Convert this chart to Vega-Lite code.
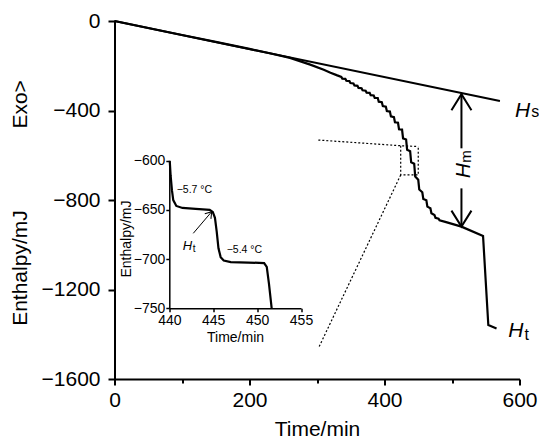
{
  "$schema": "https://vega.github.io/schema/vega-lite/v6.json",
  "width": 405,
  "height": 358,
  "autosize": {"type": "none"},
  "padding": {"left": 114.5, "top": 21, "right": 19.5, "bottom": 60},
  "background": "white",
  "config": {
    "view": {"stroke": null},
    "axis": {
      "grid": false,
      "domainColor": "black",
      "tickColor": "black",
      "labelColor": "black",
      "titleColor": "black",
      "labelFont": "Liberation Sans",
      "titleFont": "Liberation Sans",
      "titleFontWeight": "normal",
      "labelOverlap": false,
      "labelFlush": false,
      "labelBound": false
    }
  },
  "layer": [
    {
      "encoding": {
        "x": {
          "field": "t",
          "type": "quantitative",
          "scale": {"domain": [0, 600], "nice": false, "zero": false},
          "axis": {
            "values": [0, 100, 200, 300, 400, 500, 600],
            "labelExpr": "datum.value % 200 === 0 ? datum.label : ''",
            "tickSize": {"condition": {"test": "datum.value % 200 === 0", "value": 6}, "value": 4},
            "domainWidth": 2,
            "tickWidth": 2,
            "labelFontSize": 21,
            "labelPadding": 4,
            "title": "Time/min",
            "titleFontSize": 21,
            "titleY": 56,
            "titleBaseline": "alphabetic"
          }
        },
        "y": {
          "field": "H",
          "type": "quantitative",
          "scale": {"domain": [-1600, 0], "nice": false, "zero": false},
          "axis": {
            "values": [0, -400, -800, -1200, -1600],
            "format": "d",
            "labelExpr": "replace(datum.label, '-', '\u2212')",
            "domainWidth": 2,
            "tickWidth": 2,
            "tickSize": 6.5,
            "labelPadding": 8,
            "labelFontSize": 21,
            "title": "Enthalpy/mJ\u00a0\u00a0\u00a0\u00a0\u00a0\u00a0\u00a0\u00a0\u00a0\u00a0\u00a0\u00a0\u00a0\u00a0Exo>",
            "titleFontSize": 21,
            "titleAngle": 270,
            "titleX": -88.5,
            "titleY": 181.5,
            "titleAlign": "center",
            "titleBaseline": "alphabetic"
          }
        }
      },
      "layer": [
        {
          "description": "Extrapolated sensible-heat baseline H_s",
          "data": {"values": [{"t": 0, "H": 0}, {"t": 571, "H": -358}]},
          "mark": {"type": "line", "color": "black", "strokeWidth": 2}
        },
        {
          "description": "Measured enthalpy during freezing, stepwise near the transition",
          "data": {"values": [
            {"t": 0, "H": 0}, {"t": 50, "H": -31.2}, {"t": 100, "H": -62.4}, {"t": 150, "H": -93.6},
            {"t": 200, "H": -124.8}, {"t": 230, "H": -144}, {"t": 260, "H": -165}, {"t": 290, "H": -195},
            {"t": 310, "H": -218}, {"t": 320, "H": -231}, {"t": 330, "H": -243},
            {"t": 336, "H": -249.7}, {"t": 337.5, "H": -257.4},
            {"t": 342, "H": -258.3}, {"t": 343.5, "H": -267.0},
            {"t": 348, "H": -268.4}, {"t": 349.5, "H": -277.4},
            {"t": 354, "H": -279.0}, {"t": 355.5, "H": -288.1},
            {"t": 360, "H": -289.8}, {"t": 361.5, "H": -298.9},
            {"t": 366, "H": -300.6}, {"t": 367.5, "H": -309.6},
            {"t": 372, "H": -311.3}, {"t": 373.5, "H": -320.0},
            {"t": 378, "H": -320.9}, {"t": 379.5, "H": -331.3},
            {"t": 384, "H": -332.8}, {"t": 385.5, "H": -344.1},
            {"t": 390, "H": -344.2}, {"t": 391.5, "H": -360.6},
            {"t": 396, "H": -363.1}, {"t": 397.5, "H": -380.4},
            {"t": 402, "H": -382.8}, {"t": 403.5, "H": -402.1},
            {"t": 408, "H": -404.7}, {"t": 409.5, "H": -426.5},
            {"t": 414, "H": -429.9}, {"t": 415.5, "H": -452.9},
            {"t": 420, "H": -454.7}, {"t": 421.5, "H": -483.8},
            {"t": 426, "H": -485.3}, {"t": 427.5, "H": -524.7},
            {"t": 432, "H": -529.4}, {"t": 433.5, "H": -575.3},
            {"t": 438, "H": -582.1}, {"t": 439.5, "H": -631.7},
            {"t": 444, "H": -637.9}, {"t": 445.5, "H": -694.9},
            {"t": 450, "H": -709.7}, {"t": 451.5, "H": -753.1},
            {"t": 456, "H": -765.4}, {"t": 457.5, "H": -795.4},
            {"t": 462, "H": -801.1}, {"t": 463.5, "H": -829.7},
            {"t": 468, "H": -836.9}, {"t": 469.5, "H": -859.3},
            {"t": 474, "H": -866.8}, {"t": 475.5, "H": -879.3},
            {"t": 480, "H": -883.6}, {"t": 481.5, "H": -890.4},
            {"t": 490, "H": -898}, {"t": 514, "H": -919}, {"t": 546, "H": -961},
            {"t": 553.8, "H": -1359}, {"t": 566, "H": -1374}
          ]},
          "mark": {"type": "line", "color": "black", "strokeWidth": 2.2}
        },
        {
          "description": "Dotted zoom box and guides towards the inset",
          "data": {"values": [
            {"seg": "top", "i": 0, "t": 302, "H": -532}, {"seg": "top", "i": 1, "t": 424, "H": -557.5}, {"seg": "top", "i": 2, "t": 450, "H": -561},
            {"seg": "box", "i": 0, "t": 424, "H": -557.5}, {"seg": "box", "i": 1, "t": 424, "H": -688}, {"seg": "box", "i": 2, "t": 450, "H": -688}, {"seg": "box", "i": 3, "t": 450, "H": -561},
            {"seg": "bottom", "i": 0, "t": 424, "H": -688}, {"seg": "bottom", "i": 1, "t": 302, "H": -1463}
          ]},
          "mark": {"type": "line", "color": "black", "strokeWidth": 1.2, "strokeDash": [2, 2]},
          "encoding": {"detail": {"field": "seg"}, "order": {"field": "i"}}
        },
        {
          "description": "Shaft of the H_m double arrow, broken around its label",
          "data": {"values": [
            {"seg": "up", "t": 514, "H": -327}, {"seg": "up", "t": 514, "H": -569},
            {"seg": "down", "t": 514, "H": -748}, {"seg": "down", "t": 514, "H": -917}
          ]},
          "mark": {"type": "line", "color": "black", "strokeWidth": 2},
          "encoding": {"detail": {"field": "seg"}}
        },
        {
          "data": {"values": [{"t": 514, "H": -327}]},
          "mark": {"type": "point", "shape": "M-1,1.6L0,0L1,1.6", "size": 400, "filled": false, "color": "black", "strokeWidth": 2, "opacity": 1}
        },
        {
          "data": {"values": [{"t": 514, "H": -919}]},
          "mark": {"type": "point", "shape": "M-1,-1.6L0,0L1,-1.6", "size": 400, "filled": false, "color": "black", "strokeWidth": 2, "opacity": 1}
        },
        {
          "data": {"values": [{"t": 593.3, "H": -427.7, "label": "H"}, {"t": 583.4, "H": -1410.9, "label": "H"}]},
          "mark": {"type": "text", "font": "Liberation Sans", "fontStyle": "italic", "fontSize": 21, "align": "left", "baseline": "alphabetic", "color": "black"},
          "encoding": {"text": {"field": "label"}}
        },
        {
          "data": {"values": [{"t": 617.5, "H": -431, "label": "s"}, {"t": 607.5, "H": -1425.6, "label": "t"}]},
          "mark": {"type": "text", "font": "Liberation Sans", "fontSize": 16, "align": "left", "baseline": "alphabetic", "color": "black"},
          "encoding": {"text": {"field": "label"}}
        },
        {
          "data": {"values": [{"t": 526.7, "H": -703, "label": "H"}]},
          "mark": {"type": "text", "font": "Liberation Sans", "fontStyle": "italic", "fontSize": 21, "angle": 270, "align": "left", "baseline": "alphabetic", "color": "black"},
          "encoding": {"text": {"field": "label"}}
        },
        {
          "data": {"values": [{"t": 528.5, "H": -633, "label": "m"}]},
          "mark": {"type": "text", "font": "Liberation Sans", "fontSize": 15, "angle": 270, "align": "left", "baseline": "alphabetic", "color": "black"},
          "encoding": {"text": {"field": "label"}}
        }
      ]
    },
    {
      "encoding": {
        "x": {
          "field": "t",
          "type": "quantitative",
          "scale": {"domain": [440, 455], "range": [54.8, 186.5], "nice": false, "zero": false},
          "axis": {
            "orient": "bottom",
            "offset": -70.7,
            "values": [440, 445, 450, 455],
            "labelFontSize": 14,
            "tickSize": 3.5,
            "labelPadding": 1.5,
            "domainWidth": 1.5,
            "tickWidth": 1.5,
            "title": "Time/min",
            "titleFontSize": 14,
            "titleX": 120.5,
            "titleY": 33.4,
            "titleAlign": "center",
            "titleBaseline": "alphabetic"
          }
        },
        "y": {
          "field": "H",
          "type": "quantitative",
          "scale": {"domain": [-750, -600], "range": [287.3, 139.7], "nice": false, "zero": false},
          "axis": {
            "orient": "left",
            "offset": -54.8,
            "values": [-600, -650, -700, -750],
            "format": "d",
            "labelExpr": "replace(datum.label, '-', '\u2212')",
            "labelFontSize": 14,
            "tickSize": 3.5,
            "labelPadding": 1,
            "domainWidth": 1.5,
            "tickWidth": 1.5,
            "title": "Enthalpy/mJ",
            "titleFontSize": 14,
            "titleAngle": 270,
            "titleX": -39.3,
            "titleY": 217.5,
            "titleAlign": "center",
            "titleBaseline": "alphabetic"
          }
        }
      },
      "layer": [
        {
          "description": "Enlarged section of the freezing steps",
          "data": {"values": [
            {"t": 440.05, "H": -600}, {"t": 440.15, "H": -615}, {"t": 440.3, "H": -630}, {"t": 440.45, "H": -640},
            {"t": 440.8, "H": -646}, {"t": 441.5, "H": -648}, {"t": 443, "H": -649}, {"t": 444.6, "H": -650},
            {"t": 444.95, "H": -652}, {"t": 445.2, "H": -658}, {"t": 445.4, "H": -672}, {"t": 445.6, "H": -689},
            {"t": 445.85, "H": -698}, {"t": 446.2, "H": -701.5}, {"t": 447, "H": -703}, {"t": 449, "H": -703.5},
            {"t": 450.8, "H": -704}, {"t": 451.1, "H": -708}, {"t": 451.35, "H": -725}, {"t": 451.66, "H": -750}
          ]},
          "mark": {"type": "line", "color": "black", "strokeWidth": 2.2}
        },
        {
          "data": {"values": [{"t": 442.73, "H": -673.8}, {"t": 444.83, "H": -651.8}]},
          "mark": {"type": "line", "color": "black", "strokeWidth": 1}
        },
        {
          "data": {"values": [{"t": 444.83, "H": -651.8}]},
          "mark": {"type": "point", "shape": "M-1,1.5L0,0L1,1.5", "size": 64, "angle": 40, "filled": false, "color": "black", "strokeWidth": 1, "opacity": 1}
        },
        {
          "data": {"values": [{"t": 440.84, "H": -633.1, "label": "−5.7 °C"}, {"t": 446.54, "H": -694.1, "label": "−5.4 °C"}]},
          "mark": {"type": "text", "font": "Liberation Sans", "fontSize": 10.5, "align": "left", "baseline": "alphabetic", "color": "black"},
          "encoding": {"text": {"field": "label"}}
        },
        {
          "data": {"values": [{"t": 441.53, "H": -690.8, "label": "H"}]},
          "mark": {"type": "text", "font": "Liberation Sans", "fontStyle": "italic", "fontSize": 13, "align": "left", "baseline": "alphabetic", "color": "black"},
          "encoding": {"text": {"field": "label"}}
        },
        {
          "data": {"values": [{"t": 442.66, "H": -692.5, "label": "t"}]},
          "mark": {"type": "text", "font": "Liberation Sans", "fontSize": 10, "align": "left", "baseline": "alphabetic", "color": "black"},
          "encoding": {"text": {"field": "label"}}
        }
      ]
    }
  ],
  "resolve": {"scale": {"x": "independent", "y": "independent"}}
}
